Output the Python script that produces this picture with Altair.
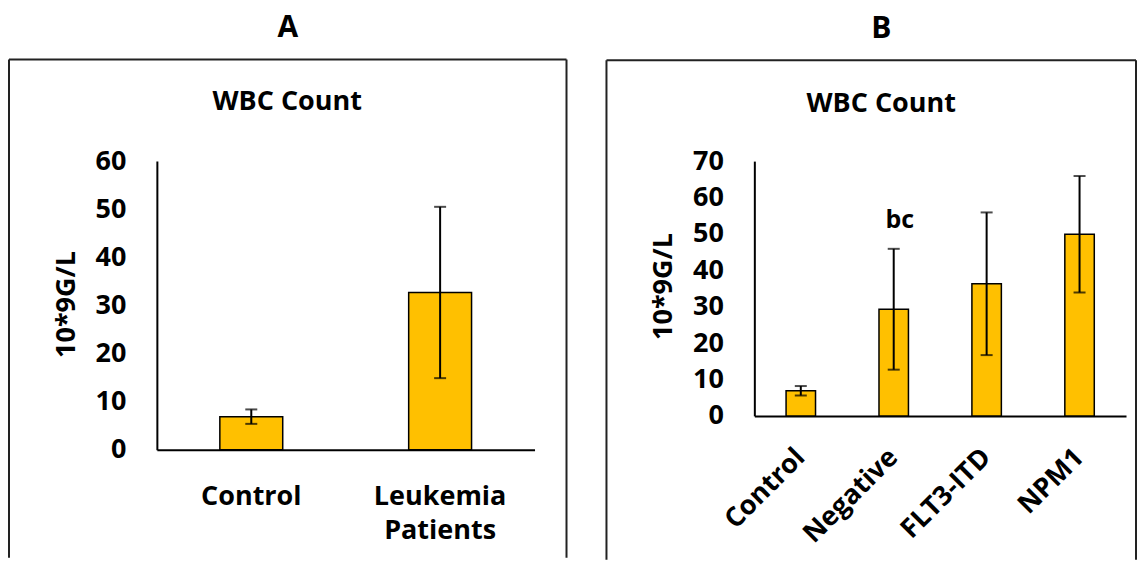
import altair as alt
import pandas as pd

FONT = "Open Sans"

# ---- data ----
a_letter = "A"
a_title = "WBC Count"
a_cats = ["Control", "Leukemia Patients"]
a_means = [6.9, 32.7]
a_sds = [1.5, 17.8]

b_letter = "B"
b_title = "WBC Count"
b_cats = ["Control", "Negative", "FLT3-ITD", "NPM1"]
b_means = [6.9, 29.3, 36.3, 49.9]
b_sds = [1.3, 16.6, 19.6, 16.0]

b_annot_cats = ["Negative"]
b_annot_text = ["bc"]
b_annot_y = [51.6]

y_title = "10*9G/L"


def panel(cats, means, sds, ymax, w, h, pad_inner, letter, title,
          letter_pos, title_pos, frame, ytitle_pos, xaxis_extra, annot=None):
    df = pd.DataFrame({
        "cat": cats,
        "mean": means,
        "lo": [m - s for m, s in zip(means, sds)],
        "hi": [m + s for m, s in zip(means, sds)],
    })
    xaxis = alt.Axis(title=None, ticks=False, tickSize=0, grid=False,
                     domainColor="black", domainWidth=2,
                     labelFont=FONT, labelFontSize=27, labelFontWeight="bold",
                     labelColor="black", **xaxis_extra)
    xs = alt.Scale(paddingInner=pad_inner, paddingOuter=pad_inner / 2)
    ys = alt.Scale(domain=[0, ymax], nice=False)
    yaxis = alt.Axis(title=y_title, values=list(range(0, ymax + 1, 10)),
                     grid=False, ticks=False, tickSize=0,
                     domainColor="black", domainWidth=2,
                     labelPadding=31, labelFont=FONT, labelFontSize=27,
                     labelFontWeight="bold", labelColor="black",
                     labelOverlap=False,
                     titleFont=FONT, titleFontSize=27, titleFontWeight="bold",
                     titleColor="black", titleAngle=270,
                     titleBaseline="middle", titleAlign="center",
                     titleX=ytitle_pos[0], titleY=ytitle_pos[1])

    def X():
        return alt.X("cat:N", sort=cats, scale=xs, axis=xaxis)

    def Y(field):
        return alt.Y(field, scale=ys, axis=yaxis)

    base = alt.Chart(df)
    one = alt.Chart(pd.DataFrame({"k": [0]}))

    fl, fr, ft, fb = frame
    layers = []
    layers.append(one.mark_rule(color="#222", strokeWidth=2).encode(
        x=alt.value(fl), x2=alt.value(fr), y=alt.value(ft)))
    layers.append(one.mark_rule(color="#222", strokeWidth=2).encode(
        x=alt.value(fl), y=alt.value(ft), y2=alt.value(fb)))
    if fr < w + 40:
        layers.append(one.mark_rule(color="#222", strokeWidth=2).encode(
            x=alt.value(fr), y=alt.value(ft), y2=alt.value(fb)))
    layers.append(one.mark_text(text=letter, font=FONT, fontSize=30,
                                fontWeight="bold", color="black",
                                align="center", baseline="middle").encode(
        x=alt.value(letter_pos[0]), y=alt.value(letter_pos[1])))
    layers.append(one.mark_text(text=title, font=FONT, fontSize=27,
                                fontWeight="bold", color="black",
                                align="center", baseline="middle").encode(
        x=alt.value(title_pos[0]), y=alt.value(title_pos[1])))

    layers.append(base.mark_bar(color="#FFC000", stroke="black",
                                strokeWidth=1.5).encode(x=X(), y=Y("mean:Q")))
    layers.append(base.mark_rule(color="black", strokeWidth=2).encode(
        x=X(), y=Y("lo:Q"), y2="hi:Q"))
    layers.append(base.mark_tick(color="black", size=12, thickness=2).encode(
        x=X(), y=Y("hi:Q")))
    layers.append(base.mark_tick(color="black", size=12, thickness=2).encode(
        x=X(), y=Y("lo:Q")))
    if annot is not None:
        adf = pd.DataFrame({"cat": annot[0], "label": annot[1], "yv": annot[2]})
        layers.append(alt.Chart(adf).mark_text(
            font=FONT, fontSize=25, fontWeight="bold", color="black",
            baseline="alphabetic", align="center", dx=6).encode(
            x=X(), y=Y("yv:Q"), text="label:N"))

    return alt.layer(*layers).properties(width=w, height=h)


pa = panel(a_cats, a_means, a_sds, 60, 378, 289, 0.667, a_letter, a_title,
           letter_pos=(131, -133.5), title_pos=(130.5, -58.7),
           frame=(-148, 410, -101.7, 397), ytitle_pos=(-90, 143),
           xaxis_extra=dict(labelAngle=0, labelPadding=34, labelBaseline="top",
                            labelLineHeight=34,
                            labelExpr="split(datum.value, ' ')"))

pb = panel(b_cats, b_means, b_sds, 70, 372, 255, 0.683, b_letter, b_title,
           letter_pos=(127, -132.3), title_pos=(127, -57.5),
           frame=(-148, 382, -101, 399), ytitle_pos=(-91, 125),
           xaxis_extra=dict(labelAngle=315, labelAlign="right",
                            labelBaseline="middle", labelPadding=37),
           annot=(b_annot_cats, b_annot_text, b_annot_y))

chart = alt.hconcat(pa, pb, spacing=38).configure_view(stroke=None).properties(
    padding={"left": 0, "top": 4, "right": 0, "bottom": 0},
    background="white")

chart.save("out.html", embed_options={"renderer": "svg", "actions": False})
